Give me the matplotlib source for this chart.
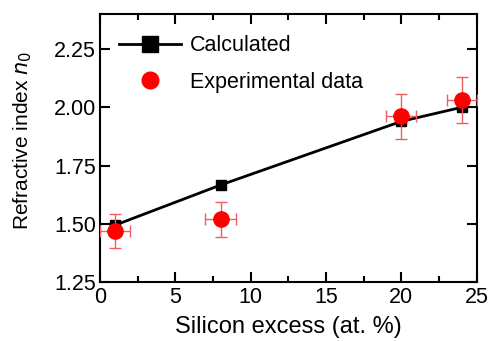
import numpy as np
import matplotlib.pyplot as plt
from matplotlib.lines import Line2D
from matplotlib.ticker import MultipleLocator

si_calc = [1, 8, 20, 24]
n_calc = [1.495, 1.667, 1.940, 2.000]

si_exp = [1, 8, 20, 24]
n_exp = [1.471, 1.520, 1.961, 2.030]
n_err = [0.072, 0.075, 0.097, 0.099]
si_err = [1.0, 1.0, 1.0, 1.0]

plt.rcParams['font.family'] = ['Liberation Sans', 'DejaVu Sans']

fig = plt.figure(figsize=(4.90, 3.41), dpi=100)
ax = fig.add_axes([0.204, 0.172, 0.769, 0.787])

ax.plot(si_calc, n_calc, color='black', lw=2, marker='s', markersize=7.5,
        zorder=2)
ax.errorbar(si_exp, n_exp, yerr=n_err, xerr=si_err, ls='', marker='o',
            color='red', ecolor='#ee6060', elinewidth=1, capsize=4,
            capthick=1, markersize=11, zorder=3)

ax.set_xlim(0, 25)
ax.set_ylim(1.25, 2.40)
ax.set_yticks([1.25, 1.50, 1.75, 2.00, 2.25])
ax.set_yticklabels(['1.25', '1.50', '1.75', '2.00', '2.25'])
ax.xaxis.set_major_locator(MultipleLocator(5))
ax.xaxis.set_minor_locator(MultipleLocator(2.5))
ax.tick_params(which='both', direction='in', top=True, right=True,
               width=1.5, labelsize=15.5, pad=3)
ax.tick_params(which='major', length=7)
ax.tick_params(which='minor', length=4)
for s in ax.spines.values():
    s.set_linewidth(1.5)

ax.set_xlabel('Silicon excess (at. %)', fontsize=17, labelpad=6)
ax.set_ylabel('Refractive index $n_0$', fontsize=15)
ax.yaxis.set_label_coords(-0.174, 0.53)

# legend markers are drawn larger than the data markers
handles = [Line2D([], [], color='black', lw=2, marker='s', markersize=11),
           Line2D([], [], color='red', ls='', marker='o', markersize=12)]
ax.legend(handles, ['Calculated', 'Experimental data'], loc='upper left',
          bbox_to_anchor=(0.05, 0.92), frameon=False, fontsize=15.5,
          handlelength=2.9, handletextpad=0.4, borderpad=0,
          borderaxespad=0, labelspacing=0.7)

fig.savefig('out.png', dpi=100)
